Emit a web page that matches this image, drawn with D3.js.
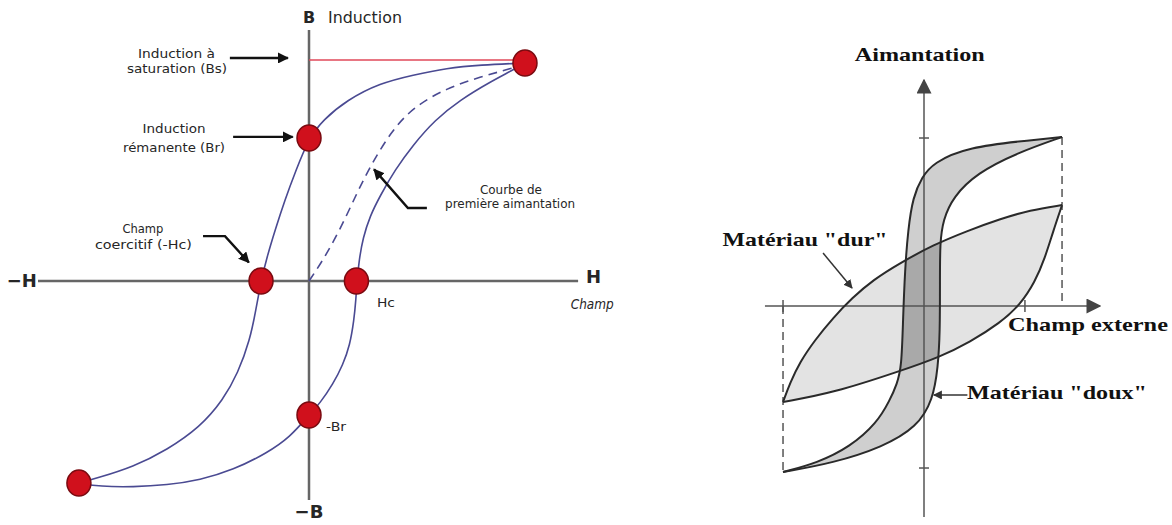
<!DOCTYPE html>
<html lang="fr">
<head>
<meta charset="UTF-8">
<title>Cycle d'hystérésis</title>
<script src="https://d3js.org/d3.v7.min.js"></script>
<style>
  body { margin: 0; background: #fff; }
  .lbl { font-family: "DejaVu Sans", sans-serif; fill: #262626; }
  .rlbl { font-family: "Liberation Serif", "Times New Roman", serif; font-weight: bold; fill: #111; }
</style>
</head>
<body>
<svg width="1172" height="525"></svg>
<script>
// ---- panneau gauche : B(H), unités relatives ----
const descBranch = [
  [0.797, 1.000], [0.631, 0.991], [0.509, 0.977], [0.384, 0.945], [0.262, 0.908],
  [0.140, 0.830], [0.052, 0.739], [0, 0.656], [-0.048, 0.509], [-0.089, 0.372],
  [-0.125, 0.234], [-0.155, 0.110], [-0.177, 0], [-0.196, -0.133], [-0.218, -0.271],
  [-0.262, -0.422], [-0.317, -0.546], [-0.402, -0.670], [-0.524, -0.775],
  [-0.649, -0.853], [-0.782, -0.904], [-0.849, -0.927]
];
const ascBranch = [
  [-0.849, -0.927], [-0.771, -0.943], [-0.649, -0.945], [-0.524, -0.936],
  [-0.402, -0.913], [-0.280, -0.867], [-0.155, -0.789], [-0.070, -0.716],
  [0, -0.615], [0.041, -0.560], [0.089, -0.472], [0.125, -0.385], [0.151, -0.294],
  [0.166, -0.179], [0.173, -0.087], [0.177, 0], [0.185, 0.096], [0.199, 0.197],
  [0.225, 0.298], [0.262, 0.390], [0.317, 0.509], [0.384, 0.624], [0.465, 0.739],
  [0.557, 0.830], [0.668, 0.913], [0.753, 0.968], [0.797, 1.000]
];
const firstMag = [
  [0, 0], [0.052, 0.096], [0.114, 0.234], [0.177, 0.404], [0.225, 0.523],
  [0.299, 0.679], [0.384, 0.798], [0.509, 0.885], [0.631, 0.936], [0.753, 0.977], [0.78, 0.99]
];
const keyPoints = [
  [0.797, 1.0], [0, 0.656], [-0.177, 0], [0.175, 0], [0, -0.615], [-0.849, -0.927]
];
const bsLevel = 1.014;

// ---- panneau droit : aimantation, matériau doux / dur ----
const softDesc = [
  [0.986, 1.018], [0.779, 1.000], [0.307, 0.958], [0.064, 0.861], [-0.014, 0.777],
  [-0.079, 0.657], [-0.114, 0.458], [-0.136, 0.217], [-0.150, -0.084], [-0.160, -0.367],
  [-0.193, -0.470], [-0.243, -0.566], [-0.336, -0.705], [-0.529, -0.849],
  [-0.764, -0.946], [-1.007, -1.000]
];
const softAsc = [
  [-1.007, -1.000], [-0.650, -0.946], [-0.293, -0.849], [-0.050, -0.729],
  [0.064, -0.566], [0.100, -0.367], [0.114, -0.163], [0.114, 0.157], [0.114, 0.380],
  [0.136, 0.518], [0.207, 0.657], [0.379, 0.801], [0.664, 0.922], [0.986, 1.018]
];
const hardDesc = [
  [0.986, 0.608], [0.757, 0.578], [0.543, 0.524], [0.307, 0.452], [0.064, 0.367],
  [-0.171, 0.259], [-0.364, 0.157], [-0.514, 0.048], [-0.650, -0.072],
  [-0.779, -0.205], [-0.886, -0.337], [-0.957, -0.464], [-1.007, -0.578]
];
const hardAsc = [
  [-1.007, -0.578], [-0.650, -0.524], [-0.171, -0.392], [0.114, -0.307],
  [0.329, -0.217], [0.543, -0.102], [0.686, 0.006], [0.793, 0.145],
  [0.864, 0.289], [0.921, 0.446], [0.986, 0.608]
];
const xTicksR = [-1.007, 0.721];
const yTicksR = [1.012, -0.976];

const svg = d3.select("svg");

// marqueurs de flèches
const defs = svg.append("defs");
function marker(id, size, color) {
  defs.append("marker").attr("id", id).attr("viewBox", "0 0 10 10")
    .attr("refX", 9).attr("refY", 5).attr("markerWidth", size).attr("markerHeight", size)
    .attr("markerUnits", "userSpaceOnUse").attr("orient", "auto")
    .append("path").attr("d", "M0,0L10,5L0,10z").attr("fill", color);
}
marker("arr", 11, "#111");
marker("arrAxis", 15, "#444");
marker("arrSmall", 9, "#333");

// ================= GAUCHE =================
const xL = d3.scaleLinear().domain([-1, 1]).range([38, 580]);
const yL = d3.scaleLinear().domain([-1, 1]).range([499, 63]);
const L = svg.append("g");
const lineL = d3.line().x(d => xL(d[0])).y(d => yL(d[1])).curve(d3.curveBasis);

// axes
L.append("line").attr("x1", xL(-1)).attr("x2", xL(0.993)).attr("y1", yL(0)).attr("y2", yL(0))
  .attr("stroke", "#666").attr("stroke-width", 2.5);
L.append("line").attr("x1", xL(0)).attr("x2", xL(0)).attr("y1", yL(1.151)).attr("y2", yL(-1.005))
  .attr("stroke", "#666").attr("stroke-width", 2.5);

// niveau de saturation
L.append("line").attr("x1", xL(0)).attr("x2", xL(0.76)).attr("y1", yL(bsLevel)).attr("y2", yL(bsLevel))
  .attr("stroke", "#e0485a").attr("stroke-width", 1.5);

// courbes
[descBranch, ascBranch].forEach(b => {
  L.append("path").attr("d", lineL(b)).attr("fill", "none")
    .attr("stroke", "#4a4a92").attr("stroke-width", 1.6);
});
L.append("path").attr("d", lineL(firstMag)).attr("fill", "none")
  .attr("stroke", "#4a4a92").attr("stroke-width", 1.6).attr("stroke-dasharray", "9,6");

// points
L.selectAll("ellipse").data(keyPoints).enter().append("ellipse")
  .attr("cx", d => xL(d[0])).attr("cy", d => yL(d[1]))
  .attr("rx", 12).attr("ry", 13)
  .attr("fill", "#d0101c").attr("stroke", "#7a0a10").attr("stroke-width", 1.5);

// flèches d'annotation
const annArrows = [
  [[-0.292, 1.023], [-0.078, 1.023]],
  [[-0.280, 0.661], [-0.060, 0.661]],
  [[-0.391, 0.206], [-0.310, 0.206], [-0.222, 0.085]],
  [[0.435, 0.335], [0.365, 0.335], [0.240, 0.512]]
];
annArrows.forEach(a => {
  L.append("path").attr("d", d3.line().x(d => xL(d[0])).y(d => yL(d[1]))(a))
    .attr("fill", "none").attr("stroke", "#111").attr("stroke-width", 2.4)
    .attr("marker-end", "url(#arr)");
});

// textes : [texte, H, B, largeur]
const annText = [
  ["Induction à", -0.489, 1.041, 77], ["saturation (Bs)", -0.487, 0.968, 100],
  ["Induction", -0.498, 0.693, 63], ["rémanente (Br)", -0.498, 0.610, 102],
  ["Champ", -0.613, 0.234, 41], ["coercitif (-Hc)", -0.611, 0.165, 97],
  ["Courbe de", 0.745, 0.417, 62], ["première aimantation", 0.742, 0.353, 130],
  ["Hc", 0.284, -0.101, 18], ["-Br", 0.1, -0.670, 20]
];
L.selectAll(".ann").data(annText).enter().append("text").attr("class", "lbl ann")
  .attr("x", d => xL(d[1])).attr("y", d => yL(d[2]))
  .attr("text-anchor", "middle").attr("dominant-baseline", "middle")
  .attr("textLength", d => d[3]).attr("lengthAdjust", "spacingAndGlyphs")
  .style("font-size", "12.5px").text(d => d[0]);

L.append("text").attr("class", "lbl").attr("x", xL(0)).attr("y", yL(1.206))
  .attr("text-anchor", "middle").attr("dominant-baseline", "middle")
  .style("font-size", "16px").style("font-weight", "bold").text("B");
L.append("text").attr("class", "lbl").attr("x", xL(0.07)).attr("y", yL(1.206))
  .attr("dominant-baseline", "middle").attr("textLength", 74).attr("lengthAdjust", "spacingAndGlyphs")
  .style("font-size", "15px").text("Induction");
L.append("text").attr("class", "lbl").attr("x", xL(0)).attr("y", yL(-1.065))
  .attr("text-anchor", "middle").attr("dominant-baseline", "middle")
  .style("font-size", "18px").style("font-weight", "bold").text("−B");
L.append("text").attr("class", "lbl").attr("x", xL(-1.06)).attr("y", yL(-0.005))
  .attr("text-anchor", "middle").attr("dominant-baseline", "middle")
  .style("font-size", "18px").style("font-weight", "bold").text("−H");
L.append("text").attr("class", "lbl").attr("x", xL(1.05)).attr("y", yL(0.015))
  .attr("text-anchor", "middle").attr("dominant-baseline", "middle")
  .style("font-size", "18px").style("font-weight", "bold").text("H");
L.append("text").attr("class", "lbl").attr("x", xL(1.045)).attr("y", yL(-0.11))
  .attr("text-anchor", "middle").attr("dominant-baseline", "middle")
  .attr("textLength", 43).attr("lengthAdjust", "spacingAndGlyphs")
  .style("font-size", "14px").style("font-style", "italic").text("Champ");

// ================= DROITE =================
const xR = d3.scaleLinear().domain([-1, 1]).range([784, 1064]);
const yR = d3.scaleLinear().domain([-1, 1]).range([472, 140]);
const R = svg.append("g");
const lineR = d3.line().x(d => xR(d[0])).y(d => yR(d[1])).curve(d3.curveBasis);

const hardArea = lineR(hardDesc) + "L" + lineR(hardAsc).slice(1) + "Z";
const softArea = lineR(softDesc) + "L" + lineR(softAsc).slice(1) + "Z";

defs.append("clipPath").attr("id", "hardClip").append("path").attr("d", hardArea);

// surfaces des cycles
R.append("path").attr("d", hardArea).attr("fill", "#e3e3e3");
R.append("path").attr("d", softArea).attr("fill", "#cfcfcf");
R.append("path").attr("d", softArea).attr("fill", "#a9a9a9").attr("clip-path", "url(#hardClip)");

// axes
R.append("line").attr("x1", xR(-1.136)).attr("x2", xR(1.257)).attr("y1", yR(0)).attr("y2", yR(0))
  .attr("stroke", "#555").attr("stroke-width", 1.5).attr("marker-end", "url(#arrAxis)");
R.append("line").attr("x1", xR(0)).attr("x2", xR(0)).attr("y1", yR(-1.271)).attr("y2", yR(1.361))
  .attr("stroke", "#555").attr("stroke-width", 1.5).attr("marker-end", "url(#arrAxis)");

// graduations
R.selectAll(".xt").data(xTicksR).enter().append("line")
  .attr("x1", d => xR(d)).attr("x2", d => xR(d)).attr("y1", yR(0) - 6).attr("y2", yR(0) + 6)
  .attr("stroke", "#555").attr("stroke-width", 1.5);
R.selectAll(".yt").data(yTicksR).enter().append("line")
  .attr("y1", d => yR(d)).attr("y2", d => yR(d)).attr("x1", xR(0) - 5).attr("x2", xR(0) + 5)
  .attr("stroke", "#555").attr("stroke-width", 1.5);

// pointillés de saturation
R.append("line").attr("x1", xR(0.986)).attr("x2", xR(0.986)).attr("y1", yR(1.018)).attr("y2", yR(0.02))
  .attr("stroke", "#555").attr("stroke-width", 1.5).attr("stroke-dasharray", "8,5");
R.append("line").attr("x1", xR(-1.007)).attr("x2", xR(-1.007)).attr("y1", yR(0)).attr("y2", yR(-1.0))
  .attr("stroke", "#555").attr("stroke-width", 1.5).attr("stroke-dasharray", "8,5");

// contours
[softDesc, softAsc, hardDesc, hardAsc].forEach(b => {
  R.append("path").attr("d", lineR(b)).attr("fill", "none")
    .attr("stroke", "#2a2a2a").attr("stroke-width", 2);
});

// flèches
R.append("line").attr("x1", xR(-0.721)).attr("y1", yR(0.319)).attr("x2", xR(-0.514)).attr("y2", yR(0.108))
  .attr("stroke", "#333").attr("stroke-width", 1.5).attr("marker-end", "url(#arrSmall)");
R.append("line").attr("x1", xR(0.31)).attr("y1", yR(-0.536)).attr("x2", xR(0.07)).attr("y2", yR(-0.536))
  .attr("stroke", "#333").attr("stroke-width", 1.5).attr("marker-end", "url(#arrSmall)");

// textes : [texte, H, M, ancrage, largeur]
const rText = [
  ["Aimantation", -0.03, 1.50, "middle", 130],
  ["Matériau \"dur\"", -0.85, 0.386, "middle", 165],
  ["Champ externe", 1.171, -0.127, "middle", 160],
  ["Matériau \"doux\"", 0.307, -0.536, "start", 180]
];
R.selectAll(".rt").data(rText).enter().append("text").attr("class", "rlbl")
  .attr("x", d => xR(d[1])).attr("y", d => yR(d[2]))
  .attr("text-anchor", d => d[3]).attr("dominant-baseline", "middle")
  .attr("textLength", d => d[4]).attr("lengthAdjust", "spacingAndGlyphs")
  .style("font-size", "19px").text(d => d[0]);
</script>
</body>
</html>
